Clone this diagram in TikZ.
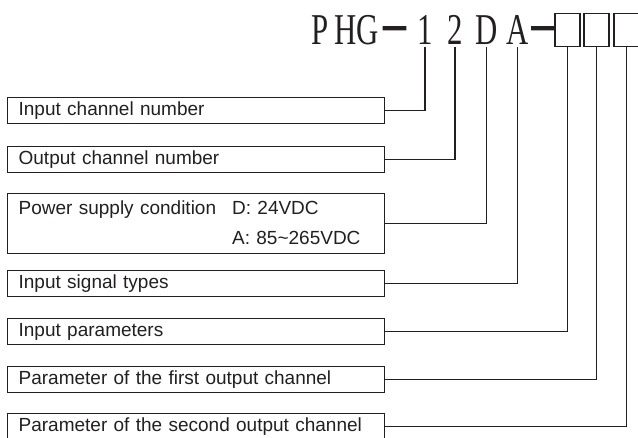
\documentclass[tikz,border=0pt]{standalone}
\usepackage{fontspec}
\setmainfont{Liberation Sans}
\newfontfamily\codefont[FakeStretch=0.7]{Liberation Serif}
\newfontfamily\dashfont[FakeBold=3]{Liberation Serif}
\definecolor{ink}{HTML}{231F20}
\tikzset{
  fieldbox/.style={draw=ink, line width=1.3pt, anchor=north west,
    minimum width=377pt, minimum height=26pt, text width=355pt,
    inner xsep=11pt, inner ysep=0pt, align=left, text=ink,
    font=\fontsize{19pt}{30pt}\selectfont},
  codechar/.style={anchor=base, inner sep=0pt, text=ink,
    font=\codefont\fontsize{44pt}{44pt}\selectfont},
  slot/.style={draw=ink, line width=1.3pt, minimum width=25pt,
    minimum height=33pt, inner sep=0pt, anchor=south},
  link/.style={draw=ink, line width=1.3pt}
}
\begin{document}
\begin{tikzpicture}[x=1pt, y=-1pt]
  \useasboundingbox (0,0) rectangle (638,437);

  % model code
  \foreach \ch/\x/\nm in {P/320/cP, H/346/cH, G/367.5/cG, 1/425/c1,
      2/455/c2, D/486.5/cD, A/517.5/cA}
    \node[codechar] (\nm) at (\x,44) {\ch};
  \node[codechar, font=\dashfont\bfseries\fontsize{44pt}{44pt}\selectfont] (dashA) at (394.5,44) {\raisebox{5.5pt}{–}};
  \node[codechar, font=\dashfont\bfseries\fontsize{44pt}{44pt}\selectfont] (dashB) at (543,44) {\raisebox{5.5pt}{–}};
  \node[slot] (s1) at (567.5,47) {};
  \node[slot] (s2) at (596.5,47) {};
  \node[slot] (s3) at (626.5,47) {};

  % field boxes
  \node[fieldbox] (inch) at (7,97) {Input channel number};
  \node[fieldbox] (outch) at (7,146) {Output channel number};
  \node[fieldbox, minimum height=56pt] (power) at (7,193)
    {\begin{tabular}{@{}l@{\hspace{16pt}}l@{}}
      Power supply condition & D: 24VDC\\
      & A: 85\textasciitilde265VDC
    \end{tabular}};
  \node[fieldbox] (sigtype) at (7,270) {Input signal types};
  \node[fieldbox] (inpar) at (7,318) {Input parameters};
  \node[fieldbox] (outone) at (7,366) {Parameter of the first output channel};
  \node[fieldbox] (outtwo) at (7,413) {Parameter of the second output channel};

  % leaders
  \draw[link] (inch.east) -| ([yshift=-3pt]c1.south);
  \draw[link] (outch.east) -| ([yshift=-3pt]c2.south);
  \draw[link] (power.east) -| ([yshift=-3pt]cD.south);
  \draw[link] (sigtype.east) -| ([yshift=-3pt]cA.south);
  \draw[link] (inpar.east) -| (s1.south);
  \draw[link] (outone.east) -| (s2.south);
  \draw[link] (outtwo.east) -| (s3.south);
\end{tikzpicture}
\end{document}
